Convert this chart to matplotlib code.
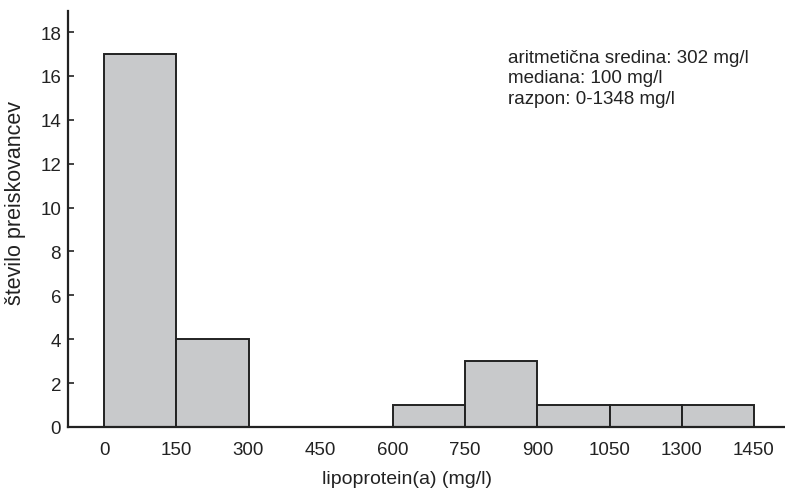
import matplotlib
matplotlib.use("Agg")
import matplotlib.pyplot as plt

tick_labels = ["0", "150", "300", "450", "600", "750", "900", "1050", "1300", "1450"]
counts = [17, 4, 0, 0, 1, 3, 1, 1, 1]

plt.rcParams['font.family'] = ['Liberation Sans', 'DejaVu Sans']

fig = plt.figure(figsize=(7.85, 4.89), dpi=100)
ax = fig.add_axes([68/785, 1-428/489, 1-68/785, (428-12)/489])

lefts = list(range(len(counts)))
ax.bar(lefts, counts, width=1.0, align='edge', color='#c8c9cb',
       edgecolor='#222222', linewidth=1.4, zorder=2)

ax.set_xlim(-0.5, 9.43)
ax.set_ylim(0, 18.96)
ax.set_xticks(range(len(tick_labels)))
ax.set_xticklabels(tick_labels)
ax.set_yticks(range(0, 19, 2))
ax.tick_params(axis='y', direction='in', length=4, width=1.2, labelsize=13.5, colors='#222222', pad=5)
ax.tick_params(axis='x', length=0, labelsize=13.5, colors='#222222', pad=10)
for s in ['top', 'right']:
    ax.spines[s].set_visible(False)
for s in ['left', 'bottom']:
    ax.spines[s].set_linewidth(1.6)
    ax.spines[s].set_color('#222222')
    ax.spines[s].set_zorder(3)

ax.set_xlabel("lipoprotein(a) (mg/l)", fontsize=14, color='#222222')
ax.set_ylabel("število preiskovancev", fontsize=15.5, color='#222222')
ax.xaxis.set_label_coords(0.473, -0.104)
ax.yaxis.set_label_coords(-0.058, 0.54)

ax.text(508/785, 1-50/489, "aritmetična sredina: 302 mg/l\nmediana: 100 mg/l\nrazpon: 0-1348 mg/l",
        transform=fig.transFigure, fontsize=13.5, color='#222222', va='top', ha='left',
        linespacing=1.25)

fig.savefig("out.png", dpi=100)
